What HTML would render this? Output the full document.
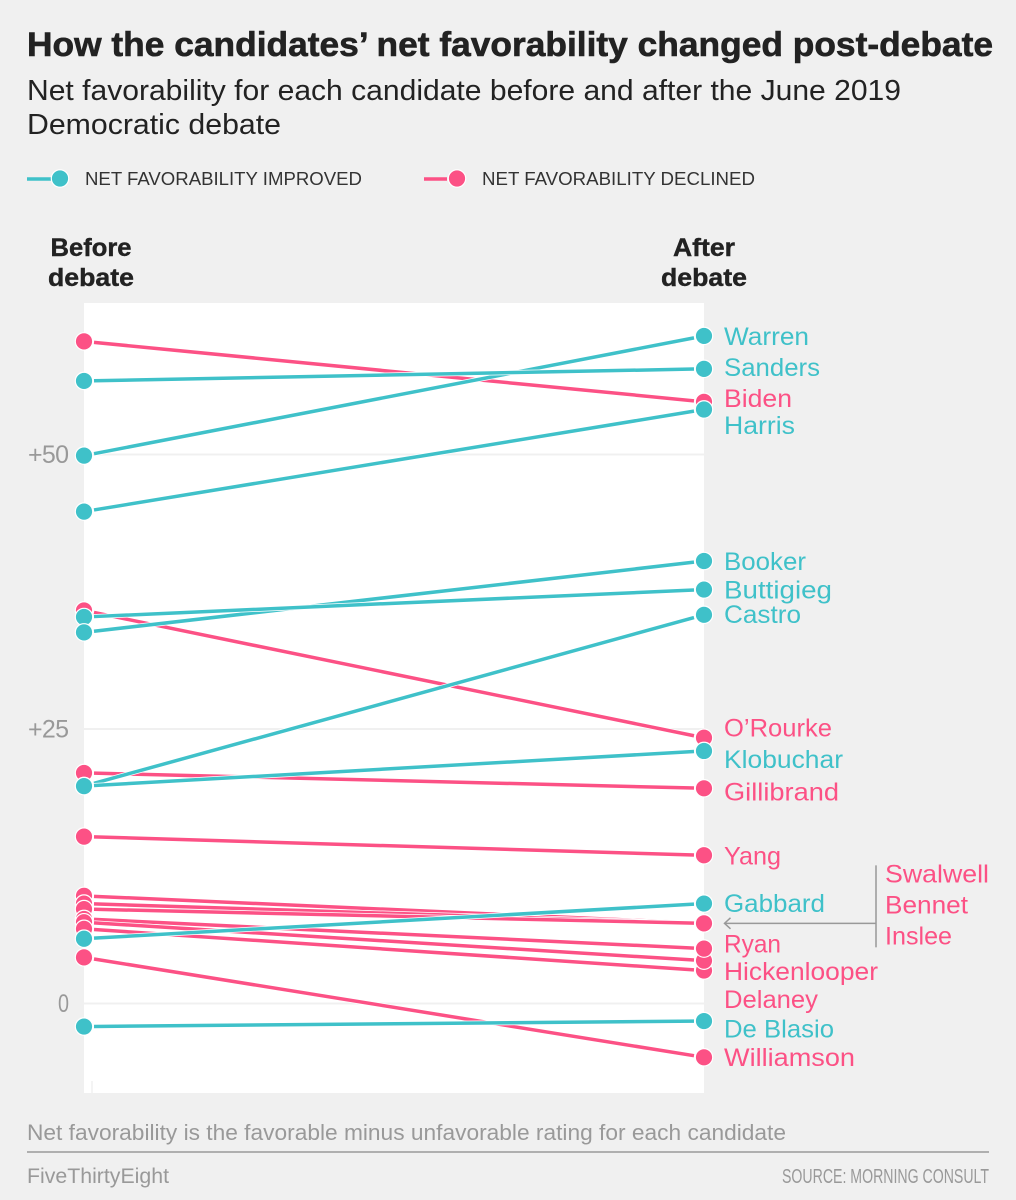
<!DOCTYPE html>
<html lang="en">
<head>
<meta charset="utf-8">
<title>How the candidates' net favorability changed post-debate</title>
<style>
  html, body { margin: 0; padding: 0; background: #f0f0f0; }
  body { width: 1016px; height: 1200px; overflow: hidden; }
  svg { display: block; font-family: "Liberation Sans", sans-serif; }
</style>
</head>
<body>
<svg id="chart" xmlns="http://www.w3.org/2000/svg" width="1016" height="1200" viewBox="0 0 1016 1200">
  <rect x="0" y="0" width="1016" height="1200" fill="#f0f0f0"/>
  <text x="27" y="56" font-size="34" font-weight="700" fill="#222" stroke="#222" stroke-width="0.6" textLength="966" lengthAdjust="spacingAndGlyphs">How the candidates’ net favorability changed post-debate</text>
  <text x="27" y="100" font-size="29" fill="#222" textLength="874" lengthAdjust="spacingAndGlyphs">Net favorability for each candidate before and after the June 2019</text>
  <text x="27" y="134" font-size="29" fill="#222" textLength="254" lengthAdjust="spacingAndGlyphs">Democratic debate</text>

  <g>
    <g>
      <line x1="27" x2="51" y1="179" y2="179" stroke="#3fc1c9" stroke-width="3.5"/>
      <circle cx="60" cy="178.5" r="8.7" fill="#3fc1c9" stroke="#fff" stroke-width="1.2"/>
      <text x="85" y="185" font-size="18" fill="#333" textLength="277" lengthAdjust="spacingAndGlyphs">NET FAVORABILITY IMPROVED</text>
    </g>
    <g>
      <line x1="424" x2="447" y1="179" y2="179" stroke="#fc5185" stroke-width="3.5"/>
      <circle cx="457" cy="178.5" r="8.7" fill="#fc5185" stroke="#fff" stroke-width="1.2"/>
      <text x="482" y="185" font-size="18" fill="#333" textLength="273" lengthAdjust="spacingAndGlyphs">NET FAVORABILITY DECLINED</text>
    </g>
  </g>

  <g font-size="25" font-weight="700" fill="#222" stroke="#222" stroke-width="0.4" text-anchor="middle">
    <text x="91" y="256" textLength="81" lengthAdjust="spacingAndGlyphs">Before</text>
    <text x="91" y="286" textLength="86" lengthAdjust="spacingAndGlyphs">debate</text>
  </g>
  <g font-size="25" font-weight="700" fill="#222" stroke="#222" stroke-width="0.4" text-anchor="middle">
    <text x="704" y="256" textLength="62" lengthAdjust="spacingAndGlyphs">After</text>
    <text x="704" y="286" textLength="86" lengthAdjust="spacingAndGlyphs">debate</text>
  </g>

  <rect x="84" y="303" width="620" height="790" fill="#fff"/>
  <line x1="92" x2="92" y1="1081" y2="1093" stroke="#f0f0f0" stroke-width="1.5"/>
  <g id="grid"></g>
  <g id="lines"></g>
  <g id="dots"></g>
  <g id="labels" font-size="25"></g>
  <g id="annotation"></g>

  <text x="27" y="1140" font-size="22" fill="#999" textLength="759" lengthAdjust="spacingAndGlyphs">Net favorability is the favorable minus unfavorable rating for each candidate</text>
  <line x1="27" x2="989" y1="1152" y2="1152" stroke="#999" stroke-width="1.5"/>
  <text x="27" y="1183" font-size="21" fill="#999" textLength="142" lengthAdjust="spacingAndGlyphs">FiveThirtyEight</text>
  <text x="782" y="1183" font-size="20" fill="#999" textLength="207" lengthAdjust="spacingAndGlyphs">SOURCE: MORNING CONSULT</text>
</svg>

<script>
const candidates = ['Warren','Sanders','Biden','Harris','Booker','Buttigieg','Castro',"O’Rourke",'Klobuchar','Gillibrand','Yang','Gabbard','Swalwell','Bennet','Inslee','Ryan','Hickenlooper','Delaney','De Blasio','Williamson'];
const beforeDebate = [49.9,56.7,60.3,44.8,33.8,35.2,19.8,35.8,19.8,21.0,15.2,5.9,9.8,9.1,8.6,7.7,7.4,6.8,-2.1,4.2];
const afterDebate = [60.8,57.8,54.8,54.1,40.3,37.7,35.4,24.2,23.0,19.6,13.5,9.1,7.3,7.3,7.3,5.0,3.9,3.0,-1.6,-4.9];
const tickValues = [50,25,0];
const tickLabels = ['+50','+25','0'];

const NS = 'http://www.w3.org/2000/svg';
const TEAL = '#3fc1c9', PINK = '#fc5185';
const X_BEFORE = 84, X_AFTER = 704;
const yScale = v => 1003.5 - v * 10.98;

function make(tag, attrs, parent) {
  const el = document.createElementNS(NS, tag);
  for (const k in attrs) el.setAttribute(k, attrs[k]);
  parent.appendChild(el);
  return el;
}
function slug(s) {
  return s.toLowerCase().replace(/[^a-z]+/g, '-');
}

/* y axis */
const gridGroup = document.getElementById('grid');
tickValues.forEach((t, i) => {
  const y = yScale(t);
  const line = make('line', {x1: X_BEFORE, x2: X_AFTER, y1: y, y2: y, stroke: '#f0f0f0', 'stroke-width': 2}, gridGroup);
  
  
  const label = make('text', {
    x: 69,
    y: y + 8.5,
    'text-anchor': 'end',
    'font-size': 25,
    fill: '#999',
    textLength: tickLabels[i].length > 1 ? 41 : 11,
    lengthAdjust: tickLabels[i].length > 1 ? 'spacing' : 'spacingAndGlyphs'
  }, gridGroup);
  label.textContent = tickLabels[i];
  
  
});

/* series, declined below improved */
const order = candidates.map((_, i) => i);
const improved = i => afterDebate[i] > beforeDebate[i];
const lineOrder = order.filter(i => !improved(i)).concat(order.filter(improved));

const lineGroup = document.getElementById('lines');
lineOrder.forEach(i => {
  const color = improved(i) ? TEAL : PINK;
  const y0 = yScale(beforeDebate[i]), y1 = yScale(afterDebate[i]);
  const t = 10 / (X_AFTER - X_BEFORE);
  const ax = X_BEFORE + 10, bx = X_AFTER - 10;
  const ay = y0 + (y1 - y0) * t, by = y1 - (y1 - y0) * t;
  const halo = make('line', {x1: ax, x2: bx, y1: ay, y2: by, stroke: '#fff', 'stroke-width': 5}, lineGroup);
  
  
  const line = make('line', {x1: ax, x2: bx, y1: ay, y2: by, stroke: color, 'stroke-width': 3.5}, lineGroup);
  
  
});

/* dots: teal always on top; on the left lower dots overlap upper ones, on the right upper overlap lower */
const dotGroup = document.getElementById('dots');
function drawDots(values, x, side, direction) {
  const pink = order.filter(i => !improved(i)).sort((a, b) => direction * (values[a] - values[b]));
  const teal = order.filter(improved).sort((a, b) => direction * (values[a] - values[b]));
  pink.concat(teal).forEach(i => {
    const dot = make('circle', {cx: x, cy: yScale(values[i]), r: 8.7, fill: improved(i) ? TEAL : PINK, stroke: '#fff', 'stroke-width': 1.2}, dotGroup);
    
    
  });
}
drawDots(beforeDebate, X_BEFORE, 'before', -1);
drawDots(afterDebate, X_AFTER, 'after', 1);

/* labels: collision offsets and fitted widths belong to the layout, not the data */
const labelLayout = {
  'Warren': {dy: 0, w: 85}, 'Sanders': {dy: -2, w: 96}, 'Biden': {dy: -4, w: 68}, 'Harris': {dy: 15.5, w: 71},
  'Booker': {dy: 0, w: 82}, 'Buttigieg': {dy: 0, w: 108}, 'Castro': {dy: -1, w: 77}, 'O’Rourke': {dy: -10.5, w: 108},
  'Klobuchar': {dy: 8, w: 119}, 'Gillibrand': {dy: 3, w: 115}, 'Yang': {dy: 0, w: 57}, 'Gabbard': {dy: -0.5, w: 101},
  'Swalwell': {dy: -50, w: 104, x: 885}, 'Bennet': {dy: -19, w: 83, x: 885}, 'Inslee': {dy: 12, w: 67, x: 885},
  'Ryan': {dy: -5, w: 57}, 'Hickenlooper': {dy: 10.5, w: 154}, 'Delaney': {dy: 28.5, w: 94},
  'De Blasio': {dy: 7.5, w: 110}, 'Williamson': {dy: -0.5, w: 131}
};
const labelGroup = document.getElementById('labels');
order.forEach(i => {
  const name = candidates[i];
  const layout = labelLayout[name];
  const label = make('text', {
    x: layout.x || 724,
    y: yScale(afterDebate[i]) + layout.dy + 9,
    fill: improved(i) ? TEAL : PINK,
    textLength: layout.w,
    lengthAdjust: 'spacingAndGlyphs'
  }, labelGroup);
  label.textContent = name;
  
  
});

/* annotation bracket and arrow, tied to the shared "after" value */
const annGroup = document.getElementById('annotation');
const annY = yScale(afterDebate[candidates.indexOf('Bennet')]);
const bracket = make('line', {x1: 876, x2: 876, y1: annY - 58, y2: annY + 24, stroke: '#999', 'stroke-width': 1.5}, annGroup);


const shaft = make('line', {x1: 725, x2: 876, y1: annY, y2: annY, stroke: '#999', 'stroke-width': 1.5}, annGroup);


const head = make('path', {d: 'M730.5 ' + (annY - 5.5) + ' L724.5 ' + annY + ' L730.5 ' + (annY + 5.5), fill: 'none', stroke: '#999', 'stroke-width': 1.5}, annGroup);


</script>
</body>
</html>
